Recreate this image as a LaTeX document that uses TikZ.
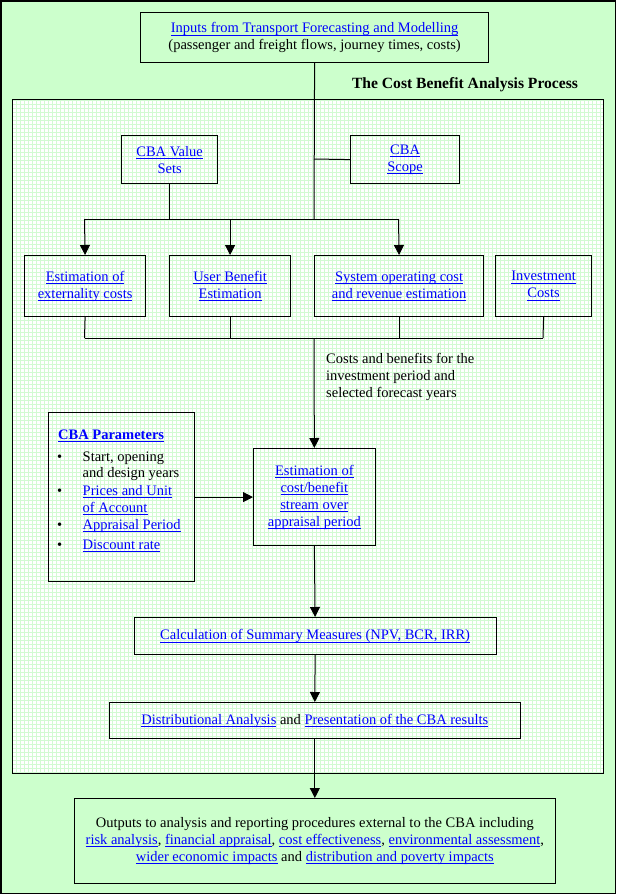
\documentclass[tikz,border=0pt]{standalone}
\usepackage{fontspec}
\setmainfont{Liberation Serif}
\usetikzlibrary{arrows.meta}
\definecolor{bggreen}{HTML}{CCFFCC}
\definecolor{gridgreen}{HTML}{D2FAD2}
\definecolor{linkblue}{HTML}{0000FF}
\newcommand\fsz{\fontsize{14.5pt}{17pt}\selectfont}
\newcommand\lnk[1]{\textcolor{linkblue}{\setbox0\hbox{#1}\rlap{\rule[-2.8pt]{\wd0}{0.9pt}}\box0}}
\newcommand\blu[1]{\textcolor{linkblue}{#1}}
\begin{document}
\begin{tikzpicture}[x=1pt,y=-1pt,
  box/.style={draw=black,line width=1.2pt,inner sep=0pt,align=center,font=\fsz,anchor=north west},
  txt/.style={inner sep=0pt,font=\fsz},
  conn/.style={line width=1pt},
  arr/.style={line width=1pt,-{Triangle[length=10pt,width=10pt]}}]
\useasboundingbox (0,0) rectangle (616,894);
% backgrounds
\fill[bggreen] (0,0) rectangle (616,894);
\fill[white] (12,99) rectangle (603,773);
\begin{scope}
\clip (12,99) rectangle (603,773);
\draw[gridgreen,line width=1pt,xstep=4pt,ystep=4pt] (10,97) grid (606,776);
\end{scope}
\draw[line width=1pt] (12,99) rectangle (603,773);
\draw[line width=1.5pt] (0.75,0.75) rectangle (615.25,893.25);
% title
\node[txt,font=\fontsize{15.6pt}{18pt}\selectfont\bfseries] (title) at (465,85) {The Cost Benefit Analysis Process};
% boxes
\node[box,minimum width=348,minimum height=50] (inputs) at (140,12)
  {\lnk{Inputs from Transport Forecasting and Modelling}\\(passenger and freight flows, journey times, costs)};
\node[box,minimum width=96,minimum height=48] (values) at (121,135)
  {\lnk{CBA Value}\\\blu{Sets}};
\node[box,minimum width=109,minimum height=48] (scope) at (350,135)
  {\lnk{CBA}\\\lnk{Scope}};
\node[box,minimum width=121,minimum height=61] (ext) at (24,255)
  {\lnk{Estimation of}\\\lnk{externality costs}};
\node[box,minimum width=121,minimum height=61] (user) at (169,255)
  {\lnk{User Benefit}\\\lnk{Estimation}};
\node[box,minimum width=169,minimum height=61] (system) at (314,255)
  {\lnk{System operating cost}\\\lnk{and revenue estimation}};
\node[box,minimum width=96,minimum height=61] (invest) at (495,255)
  {\lnk{Investment}\\\lnk{Costs}};
\node[txt,align=left,anchor=north west] (costs) at (326,353)
  {Costs and benefits for the\\investment period and\\selected forecast years};
\node[box,minimum width=146,minimum height=169] (params) at (48,412) {};
\node[txt,anchor=base west,font=\fsz\bfseries] (ptitle) at (58,439) {\lnk{CBA Parameters}};
\node[txt,anchor=base west] (b1) at (57,461) {•};
\node[txt,anchor=base west] (p1) at (82.5,461) {Start, opening};
\node[txt,anchor=base west] (p2) at (82.5,477) {and design years};
\node[txt,anchor=base west] (b2) at (57,495) {•};
\node[txt,anchor=base west] (p3) at (82.5,495) {\lnk{Prices and Unit}};
\node[txt,anchor=base west] (p4) at (82.5,512) {\lnk{of Account}};
\node[txt,anchor=base west] (b3) at (57,529) {•};
\node[txt,anchor=base west] (p5) at (82.5,529) {\lnk{Appraisal Period}};
\node[txt,anchor=base west] (b4) at (57,549) {•};
\node[txt,anchor=base west] (p6) at (82.5,549) {\lnk{Discount rate}};
\node[box,minimum width=121.5,minimum height=97] (stream) at (253,448)
  {\lnk{Estimation of}\\\lnk{cost/benefit}\\\lnk{stream over}\\\lnk{appraisal period}};
\node[box,minimum width=362,minimum height=37] (calc) at (133.5,617)
  {\lnk{Calculation of Summary Measures (NPV, BCR, IRR)}};
\node[box,minimum width=410.5,minimum height=36] (dist) at (109,702)
  {\lnk{Distributional Analysis} and \lnk{Presentation of the CBA results}};
\node[box,minimum width=480.5,minimum height=85] (outputs) at (74,798)
  {Outputs to analysis and reporting procedures external to the CBA including\\
   \lnk{risk analysis}, \lnk{financial appraisal}, \lnk{cost effectiveness}, \lnk{environmental assessment},\\
   \lnk{wider economic impacts} and \lnk{distribution and poverty impacts}};
% junction coordinates
\coordinate (j1) at (314,219);
\coordinate (j2) at (314,159);
\coordinate (bl) at (84.5,219);
\coordinate (br) at (398.5,219);
\coordinate (cl) at (84.5,338);
\coordinate (cr) at (543,338);
\coordinate (cm) at (314,338);
% connectors
\draw[conn] (inputs.south) -- (j1);
\draw[conn] (scope.west) -- (j2);
\draw[conn] (values.south) -- (values.south |- j1);
\draw[conn] (bl) -- (br);
\draw[arr] (bl) -- (ext.north);
\draw[arr] (user.north |- j1) -- (user.north);
\draw[arr] (br) -- (system.north);
\draw[conn] (ext.south) -- (cl);
\draw[conn] (user.south) -- (user.south |- cl);
\draw[conn] (system.south) -- (system.south |- cl);
\draw[conn] (invest.south) -- (cr);
\draw[conn] (cl) -- (cr);
\draw[arr] (cm) -- (stream.north);
\draw[arr] (params.east |- stream.west) -- (stream.west);
\draw[arr] (stream.south) -- (calc.north);
\draw[arr] (calc.south) -- (dist.north);
\draw[arr] (dist.south) -- (outputs.north);
\end{tikzpicture}
\end{document}
